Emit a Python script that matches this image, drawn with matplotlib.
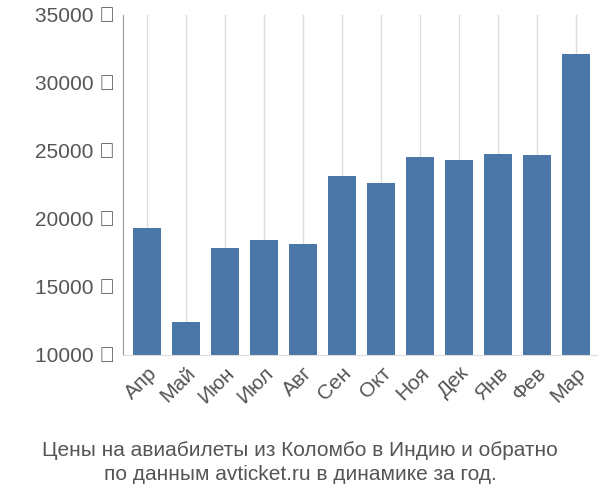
import matplotlib
matplotlib.use("Agg")
import matplotlib.pyplot as plt

months = ["Апр", "Май", "Июн", "Июл", "Авг", "Сен", "Окт", "Ноя", "Дек", "Янв", "Фев", "Мар"]
prices = [19340, 12430, 17870, 18460, 18160, 23160, 22650, 24560, 24340, 24780, 24710, 32130]
yticks = [10000, 15000, 20000, 25000, 30000, 35000]

plt.rcParams["font.family"] = "Liberation Sans"
fig = plt.figure(figsize=(6, 5), dpi=100)
ax = fig.add_axes([0.205, 0.29, 0.79, 0.68])

ax.bar(range(len(months)), prices, width=0.72, color="#4a76a8")
ax.set_ylim(10000, 35000)
ax.set_xlim(-0.62, len(months) - 0.45)
ax.set_yticks(yticks)
ax.set_yticklabels([f"{v} ₽" for v in yticks], fontsize=15, color="#555555")
ax.set_xticks(range(len(months)))
ax.set_xticklabels(months, rotation=45, ha="right", rotation_mode="anchor",
                   fontsize=15, color="#555555")
ax.grid(axis="x", color="#dddddd", linewidth=1)
ax.set_axisbelow(True)
for s in ["top", "right"]:
    ax.spines[s].set_visible(False)
ax.spines["left"].set_color("#999999")
ax.spines["bottom"].set_color("#dddddd")
ax.tick_params(axis="y", length=0, pad=6)
ax.tick_params(axis="x", length=0, pad=6)

fig.text(0.5, 0.075, "Цены на авиабилеты из Коломбо в Индию и обратно\nпо данным avticket.ru в динамике за год.",
         ha="center", va="center", fontsize=15, color="#555555", linespacing=1.4)

fig.savefig("out.png")
